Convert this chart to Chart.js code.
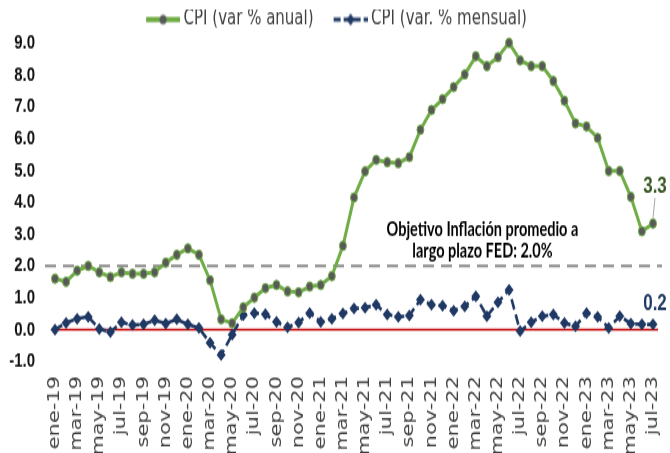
<!DOCTYPE html>
<html>
<head>
<meta charset="utf-8">
<script src="https://cdn.jsdelivr.net/npm/chart.js@4.4.1/dist/chart.umd.min.js"></script>
<style>
  html { margin: 0; padding: 0; background: #fff; overflow: hidden; }
  body { margin: 0; padding: 0; width: 670px; height: 453px; }
  /* the original picture is stretched vertically, so draw short and scale */
  #chart { display: block; width: 670px; height: 336px; transform: scaleY(1.3482); transform-origin: 0 0; }
</style>
</head>
<body>
<canvas id="chart" width="670" height="336"></canvas>
<script>
// eje x: ene-19 .. jul-23
const months = ['ene', 'feb', 'mar', 'abr', 'may', 'jun', 'jul', 'ago', 'sep', 'oct', 'nov', 'dic'];
const years = ['19', '20', '21', '22', '23'];
const labels = [];
years.forEach(y => months.forEach(m => labels.push(m + '-' + y)));
const categories = labels.slice(0, 55);

// CPI var % anual
const cpiAnual = [
  1.6, 1.5, 1.85, 2.0, 1.8, 1.65, 1.8, 1.75, 1.75, 1.8, 2.1, 2.35,
  2.55, 2.35, 1.55, 0.32, 0.2, 0.7, 1.0, 1.3, 1.4, 1.2, 1.17, 1.35,
  1.4, 1.68, 2.63, 4.15, 4.97, 5.33, 5.26, 5.23, 5.42, 6.28, 6.9, 7.24,
  7.62, 8.02, 8.59, 8.28, 8.56, 9.01, 8.46, 8.28, 8.28, 7.81, 7.19, 6.48,
  6.38, 6.02, 4.98, 4.98, 4.17, 3.09, 3.33
];

// CPI var % mensual
const cpiMensual = [
  0.0, 0.21, 0.34, 0.4, 0.02, -0.08, 0.23, 0.14, 0.16, 0.29, 0.19, 0.32,
  0.16, 0.05, -0.42, -0.8, -0.16, 0.45, 0.52, 0.48, 0.24, 0.07, 0.22, 0.52,
  0.24, 0.34, 0.5, 0.66, 0.68, 0.78, 0.47, 0.4, 0.44, 0.94, 0.78, 0.75,
  0.59, 0.73, 1.04, 0.42, 0.85, 1.25, -0.05, 0.23, 0.42, 0.47, 0.21, 0.1,
  0.52, 0.4, 0.05, 0.42, 0.19, 0.16, 0.16
];

const targetFed = 2.0;
const targetText = ['Objetivo Inflación promedio a', 'largo plazo FED: 2.0%'];

const green = '#70AD47';
const navy = '#1F3864';

// legend symbols: line + marker, drawn on the right 34px of the image
function legendSymbol(kind) {
  const c = document.createElement('canvas');
  c.width = 58; c.height = 12;
  const g = c.getContext('2d');
  const x0 = 24, x1 = 58, cy = 6, cx = 41;
  if (kind === 'anual') {
    g.strokeStyle = green; g.lineWidth = 4;
    g.beginPath(); g.moveTo(x0, cy); g.lineTo(x1, cy); g.stroke();
    g.fillStyle = '#595959';
    g.beginPath(); g.arc(cx, cy, 3.5, 0, Math.PI * 2); g.fill();
  } else {
    g.strokeStyle = navy; g.lineWidth = 3; g.setLineDash([7, 3]);
    g.beginPath(); g.moveTo(x0, cy); g.lineTo(x1, cy); g.stroke();
    g.fillStyle = navy;
    g.beginPath(); g.moveTo(cx, cy - 4.5); g.lineTo(cx + 4, cy); g.lineTo(cx, cy + 4.5); g.lineTo(cx - 4, cy); g.closePath(); g.fill();
  }
  return c;
}
const symbols = [legendSymbol('anual'), legendSymbol('mensual')];

const extras = {
  id: 'extras',
  beforeDatasetsDraw(chart) {
    const {ctx, chartArea: a, scales: {y}} = chart;
    ctx.save();
    const y0 = y.getPixelForValue(0);
    ctx.strokeStyle = '#C00000'; ctx.lineWidth = 1.5;
    ctx.beginPath(); ctx.moveTo(a.left - 2, y0); ctx.lineTo(a.right + 5, y0); ctx.stroke();
    const y2 = y.getPixelForValue(targetFed);
    ctx.strokeStyle = '#8C8C8C'; ctx.lineWidth = 2; ctx.setLineDash([11, 7]);
    ctx.beginPath(); ctx.moveTo(a.left - 10, y2); ctx.lineTo(a.right + 9, y2); ctx.stroke();
    ctx.restore();
  },
  afterDatasetsDraw(chart) {
    const {ctx, scales: {x, y}} = chart;
    ctx.save();
    // texto del objetivo
    const tx = x.getPixelForValue(38.6);
    const ty = y.getPixelForValue(targetFed);
    ctx.fillStyle = '#000';
    ctx.font = 'bold 14.5px Lato';
    ctx.textAlign = 'center';
    ctx.textBaseline = 'middle';
    ctx.fillText(targetText[0], tx, ty - 27);
    ctx.fillText(targetText[1], tx, ty - 11);

    // etiquetas del ultimo dato
    const pA = chart.getDatasetMeta(0).data[cpiAnual.length - 1];
    const pM = chart.getDatasetMeta(1).data[cpiMensual.length - 1];
    ctx.strokeStyle = '#A6A6A6'; ctx.lineWidth = 1;
    ctx.beginPath(); ctx.moveTo(pA.x + 2, pA.y - 19); ctx.lineTo(pA.x, pA.y - 4); ctx.stroke();
    ctx.font = 'bold 17px "Liberation Sans"';
    ctx.fillStyle = '#375623';
    ctx.fillText(cpiAnual[cpiAnual.length - 1].toFixed(1), pA.x + 2, pA.y - 27);
    ctx.fillStyle = navy;
    ctx.fillText(cpiMensual[cpiMensual.length - 1].toFixed(1), pM.x + 2, pM.y - 15);
    ctx.restore();
  }
};

const ctx = document.getElementById('chart').getContext('2d');
new Chart(ctx, {
  type: 'line',
  data: {
    labels: categories,
    datasets: [
      {
        label: 'CPI (var % anual)',
        data: cpiAnual,
        borderColor: green,
        borderWidth: 3,
        pointRadius: 3.5,
        pointBackgroundColor: '#595959',
        pointBorderColor: green,
        pointBorderWidth: 1,
        tension: 0,
        clip: false
      },
      {
        label: 'CPI (var. % mensual)',
        data: cpiMensual,
        borderColor: navy,
        borderWidth: 2.6,
        borderDash: [8, 4],
        pointStyle: 'rectRot',
        pointRadius: 4.5,
        pointBackgroundColor: navy,
        pointBorderColor: navy,
        pointBorderWidth: 0,
        tension: 0,
        clip: false
      }
    ]
  },
  options: {
    responsive: false,
    animation: false,
    layout: { padding: { top: 7, right: 17, left: 0, bottom: 0 } },
    plugins: {
      legend: {
        position: 'top',
        labels: {
          usePointStyle: true,
          pointStyleWidth: 50,
          padding: 0,
          color: '#404040',
          font: { family: 'DejaVu Sans', size: 15 },
          generateLabels(chart) {
            const items = Chart.defaults.plugins.legend.labels.generateLabels(chart);
            items.forEach((it, i) => { it.pointStyle = symbols[i]; });
            return items;
          }
        }
      },
      tooltip: { enabled: false }
    },
    scales: {
      x: {
        offset: false,
        grid: { display: false, drawTicks: false },
        border: { display: false },
        afterFit: s => { s.height = 68; s.paddingLeft = 0; s.paddingRight = 0; },
        ticks: {
          autoSkip: false,
          minRotation: 90,
          maxRotation: 90,
          padding: 11,
          color: '#404040',
          font: { family: 'DejaVu Sans', size: 15.5 },
          callback: function (val, i) {
            return i % 2 === 0 ? this.getLabelForValue(val) : null;
          }
        }
      },
      y: {
        min: -1,
        max: 9,
        grid: { display: false, drawTicks: false },
        border: { display: false },
        afterFit: s => { s.width = 55; },
        ticks: {
          stepSize: 1,
          padding: 20,
          color: '#111',
          font: { family: 'Liberation Sans', size: 15, weight: 'bold' },
          callback: v => v.toFixed(1)
        }
      }
    }
  },
  plugins: [extras]
});
</script>
</body>
</html>
